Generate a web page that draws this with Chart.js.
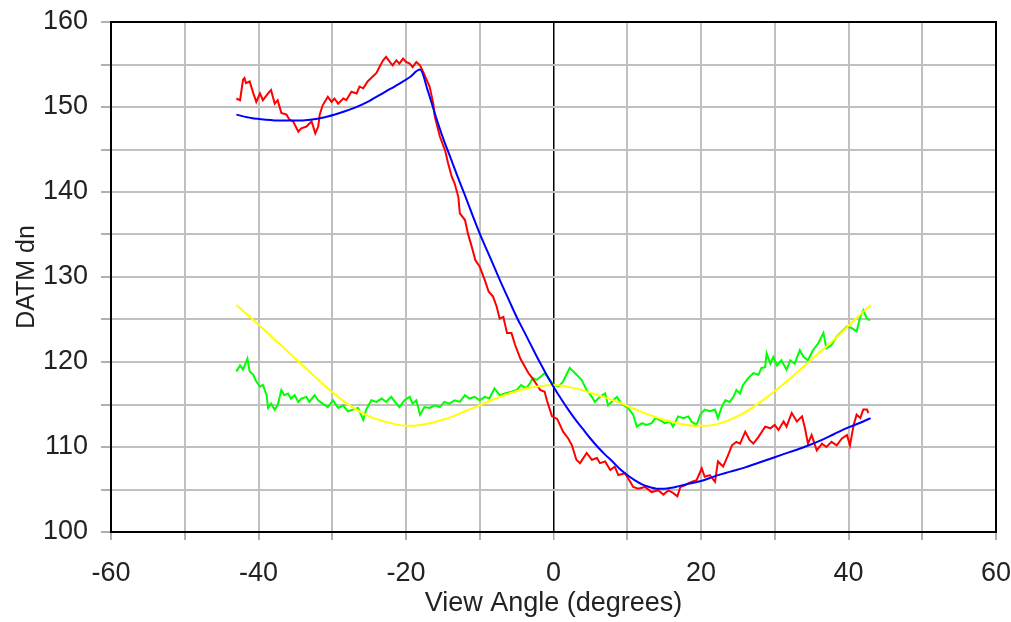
<!DOCTYPE html>
<html>
<head>
<meta charset="utf-8">
<script src="https://cdn.jsdelivr.net/npm/chart.js@4"></script>
<style>
  html, body { margin: 0; padding: 0; background: #fff; }
  #wrap { width: 1011px; height: 622px; position: relative; }
</style>
</head>
<body>
<div id="wrap"><canvas id="chart"></canvas></div>
<script>
// measured trace (red)
const redX = [-43.0,-42.5,-42.1,-41.9,-41.7,-41.2,-40.7,-40.3,-39.8,-39.4,-38.7,-38.3,-37.8,-37.4,-36.9,-36.2,-35.8,-35.3,-34.6,-34.2,-33.5,-32.8,-32.3,-31.9,-31.7,-31.3,-30.6,-30.1,-29.7,-29.2,-28.5,-28.1,-27.4,-26.7,-26.3,-25.8,-25.2,-24.5,-24.0,-23.6,-23.1,-22.7,-22.2,-21.8,-21.3,-20.9,-20.4,-20.0,-19.5,-19.1,-18.6,-18.1,-17.7,-17.2,-16.8,-16.3,-16.1,-15.4,-14.7,-14.3,-13.8,-13.4,-12.9,-12.7,-12.0,-11.6,-11.1,-10.6,-10.0,-9.3,-8.8,-8.2,-7.7,-7.3,-6.8,-6.3,-5.7,-5.2,-4.5,-3.4,-2.7,-1.8,-1.2,-0.9,-0.2,0.5,1.3,2.0,2.5,3.1,3.6,4.5,5.2,5.9,6.3,7.0,7.7,8.3,8.8,9.7,10.4,10.8,11.5,12.4,13.3,14.2,14.9,15.6,16.2,16.8,17.2,17.8,18.7,19.4,20.1,20.5,21.2,21.9,22.3,23.0,23.7,24.2,24.8,25.3,26.0,26.6,27.1,27.8,28.7,29.4,30.0,30.5,31.2,31.6,32.3,33.0,33.7,34.1,34.5,35.0,35.7,36.4,37.0,37.7,38.4,39.1,39.8,40.2,40.7,41.1,41.6,42.0,42.5,42.7];
const redY = [151.0,150.8,153.2,153.4,152.8,153.0,151.6,150.6,151.6,150.8,151.6,152.0,150.4,150.8,149.3,149.1,148.5,148.3,147.1,147.5,147.7,148.3,146.9,147.7,149.1,150.2,151.2,150.6,151.0,150.4,151.0,150.8,151.8,151.6,152.4,152.2,153.0,153.6,154.0,154.7,155.5,155.9,155.3,154.9,155.5,155.1,155.7,155.3,155.1,154.7,155.3,154.9,154.2,153.2,152.4,150.4,148.9,146.5,144.9,143.4,141.8,141.0,139.4,137.5,136.7,135.1,133.6,132.0,131.2,129.6,128.3,127.7,126.5,125.1,125.3,123.4,123.4,122.0,120.4,118.7,117.9,116.7,116.5,115.5,113.6,113.3,111.8,111.0,110.2,108.5,108.1,109.3,108.5,108.7,108.1,108.3,107.3,107.7,106.7,106.9,105.9,105.3,105.1,105.3,104.7,104.9,104.4,104.9,104.6,104.2,105.3,105.5,105.9,106.1,107.5,106.5,106.7,105.9,108.3,107.7,109.1,110.2,110.6,110.4,111.8,110.8,110.4,111.2,112.4,112.2,112.6,112.0,113.0,112.4,114.0,113.0,113.6,112.2,110.4,111.4,109.6,110.4,110.0,110.6,110.2,111.0,111.4,110.2,112.6,113.8,113.4,114.4,114.4,114.0];

// fitted curve (blue)
const blueX = [-43,-41,-39,-37,-35,-33,-31,-29,-27,-25,-23,-21,-19.5,-18.1,-17,-16,-15,-14,-13,-12,-11,-10,-9,-8,-7,-6,-5,-4,-3,-2,-1,0,1,2,3,4,5,6,7,8,9,10,11,12,13,14,15,16,17,18,20,22,24,26,28,30,32,34,36,38,40,42,43];
const blueY = [149.1,148.7,148.5,148.4,148.4,148.5,148.8,149.3,149.9,150.7,151.7,152.7,153.5,154.4,151.8,149.0,146.4,144.1,141.8,139.6,137.3,135.1,133.1,131.1,129.1,127.2,125.3,123.6,121.9,120.2,118.6,117.1,115.7,114.4,113.2,112.1,111.0,110.0,109.1,108.3,107.4,106.7,106.1,105.6,105.3,105.1,105.1,105.2,105.4,105.6,106.0,106.6,107.1,107.6,108.2,108.8,109.4,110.0,110.7,111.5,112.3,113.0,113.4];

// measured trace (green)
const greenX = [-43.0,-42.5,-42.1,-41.5,-41.2,-40.7,-40.3,-39.8,-39.4,-38.9,-38.7,-38.3,-37.8,-37.4,-36.9,-36.5,-36.0,-35.6,-35.1,-34.6,-34.2,-33.5,-33.1,-32.4,-31.9,-31.3,-30.6,-29.9,-29.2,-28.5,-27.9,-27.2,-26.5,-26.1,-25.8,-25.4,-24.7,-24.0,-23.3,-22.7,-22.0,-21.5,-20.9,-20.2,-19.5,-19.1,-18.6,-18.1,-17.5,-16.8,-16.1,-15.4,-14.8,-14.1,-13.4,-12.7,-12.0,-11.4,-10.7,-10.0,-9.3,-8.7,-8.0,-7.3,-6.6,-5.7,-5.0,-4.4,-3.7,-3.2,-2.8,-2.3,-1.7,-1.2,-0.7,0.0,0.7,1.3,2.2,2.9,3.8,4.5,5.2,5.6,6.3,7.0,7.4,8.1,8.6,9.2,10.1,10.8,11.3,12.0,12.6,13.3,13.8,14.4,15.1,15.8,16.2,16.9,17.6,18.3,18.7,19.4,19.9,20.5,21.2,21.9,22.3,22.8,23.3,23.9,24.4,24.8,25.3,25.7,26.4,27.1,27.8,28.2,28.7,28.9,29.4,29.8,30.3,30.9,31.6,32.1,32.7,33.4,33.9,34.5,35.2,35.9,36.6,37.0,37.7,38.4,39.1,39.8,40.4,41.1,41.6,42.0,42.5,42.9];
const greenY = [118.9,119.6,119.1,120.4,118.9,118.5,117.7,117.1,117.3,116.1,114.6,115.1,114.4,114.9,116.7,116.1,116.3,115.7,116.1,115.3,115.7,115.9,115.3,116.1,115.5,115.1,114.7,115.5,114.6,114.9,114.2,114.4,114.6,113.8,113.2,114.4,115.5,115.3,115.7,115.3,115.9,115.3,114.7,115.5,115.9,115.1,115.5,113.8,114.7,114.6,114.9,114.7,115.3,115.1,115.5,115.3,116.1,115.7,115.9,115.5,115.9,115.7,116.9,116.1,116.3,116.5,116.7,117.3,116.9,117.5,118.1,117.9,118.3,118.7,118.1,117.3,117.1,117.7,119.3,118.7,117.9,116.7,115.9,115.3,115.9,116.3,114.9,115.5,115.9,115.1,114.6,113.8,112.4,112.8,112.6,112.8,113.4,113.2,112.8,113.0,112.4,113.6,113.4,113.6,113.0,112.6,113.8,114.4,114.2,114.4,113.4,114.7,115.5,115.3,115.9,116.7,116.3,117.3,118.1,118.7,118.5,119.3,119.4,121.0,119.8,120.6,119.6,120.2,119.1,120.2,119.8,121.4,120.6,120.2,121.4,122.2,123.4,121.6,122.0,123.0,123.6,124.2,124.0,123.6,125.3,126.1,125.1,124.9];

// fitted curve (yellow)
const yellowX = [-43,-40,-37,-34,-31,-28,-25,-22,-20,-18,-15,-12,-9,-6,-3,0,3,6,9,12,15,18,20.5,23,26,29,32,35,38,41,43];
const yellowY = [126.7,124.4,122.0,119.6,117.2,115.1,113.6,112.8,112.5,112.6,113.2,114.2,115.3,116.3,117.0,117.3,116.9,116.1,115.2,114.1,113.2,112.6,112.5,112.9,114.1,115.9,118.0,120.3,122.6,125.1,126.7];

const xTicks = [-60, -40, -20, 0, 20, 40, 60];
const yTicks = [100, 110, 120, 130, 140, 150, 160];

function pts(xs, ys) {
  return xs.map((x, i) => ({ x: x, y: ys[i] }));
}

const FONT = 'Liberation Sans, Arial, sans-serif';

// black frame around the plot area
const framePlugin = {
  id: 'frame',
  afterDraw(chart) {
    const { ctx, chartArea: a } = chart;
    ctx.save();
    ctx.strokeStyle = '#000';
    ctx.lineWidth = 2;
    ctx.strokeRect(a.left, a.top, a.right - a.left, a.bottom - a.top);
    ctx.restore();
  }
};

new Chart(document.getElementById('chart'), {
  type: 'scatter',
  data: {
    datasets: [
      { data: pts(blueX, blueY), borderColor: '#0000ff', borderWidth: 2, order: 1,
        showLine: true, pointRadius: 0, cubicInterpolationMode: 'monotone' },
      { data: pts(yellowX, yellowY), borderColor: '#ffff00', borderWidth: 2, order: 2,
        showLine: true, pointRadius: 0, cubicInterpolationMode: 'monotone' },
      { data: pts(redX, redY), borderColor: '#ff0000', borderWidth: 2, order: 3,
        showLine: true, pointRadius: 0, tension: 0 },
      { data: pts(greenX, greenY), borderColor: '#00ff00', borderWidth: 2, order: 4,
        showLine: true, pointRadius: 0, tension: 0 }
    ]
  },
  options: {
    responsive: true,
    maintainAspectRatio: false,
    animation: false,
    layout: { padding: { top: 22, right: 15, left: 0, bottom: 0 } },
    plugins: { legend: { display: false }, tooltip: { enabled: false } },
    scales: {
      x: {
        type: 'linear', min: -60, max: 60,
        afterFit(scale) {
          scale.height = 90;
          scale.paddingLeft = 0;
          scale.paddingRight = 0;
        },
        border: { display: false },
        grid: {
          color: c => (c.tick && c.tick.value === 0 ? '#000' : '#c0c0c0'),
          lineWidth: c => (c.tick && c.tick.value === 0 ? 1.5 : 2),
          tickLength: 8, tickColor: '#b0b0b0'
        },
        ticks: {
          stepSize: 10, color: '#222', padding: 17, maxRotation: 0,
          font: { family: FONT, size: 27 },
          callback: v => (xTicks.includes(v) ? String(v) : '')
        },
        title: {
          display: true, text: 'View Angle (degrees)', color: '#222',
          font: { family: FONT, size: 27 }, padding: { top: 0, bottom: 2 }
        }
      },
      y: {
        min: 100, max: 160,
        afterFit(scale) {
          scale.width = 111;
          scale.paddingTop = 0;
          scale.paddingBottom = 0;
        },
        border: { display: false },
        grid: { color: '#c0c0c0', lineWidth: 2, tickLength: 10, tickColor: '#b0b0b0' },
        ticks: {
          stepSize: 5, color: '#222', padding: 13,
          font: { family: FONT, size: 27 },
          callback: v => (yTicks.includes(v) ? String(v) : '')
        },
        title: {
          display: true, text: 'DATM dn', color: '#222',
          font: { family: FONT, size: 25 }, padding: { top: 12, bottom: 0 }
        }
      }
    }
  },
  plugins: [framePlugin]
});
</script>
</body>
</html>
